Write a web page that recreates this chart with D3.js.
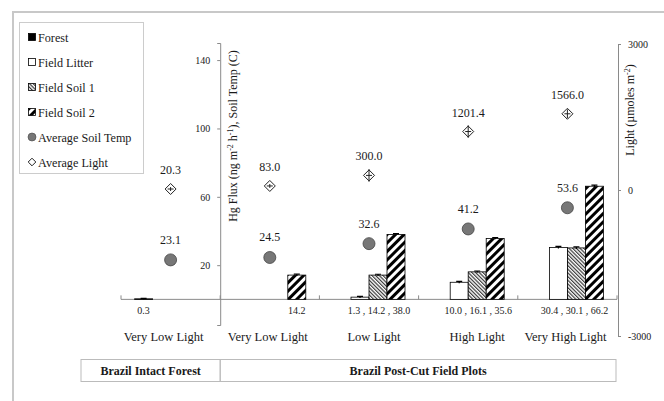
<!DOCTYPE html>
<html>
<head>
<meta charset="utf-8">
<script src="https://cdn.jsdelivr.net/npm/d3@7"></script>
<style>
  body { margin: 0; background: #fff; }
</style>
</head>
<body>
<div id="chart"></div>
<script>
// data
var categories = ["Very Low Light", "Very Low Light ", "Low Light", "High Light", "Very High Light"];
var seriesNames = ["Forest", "Field Litter", "Field Soil 1", "Field Soil 2"];
var forest = [0.3, null, null, null, null];
var fieldLitter = [null, null, 1.3, 10.0, 30.4];
var fieldSoil1 = [null, null, 14.2, 16.1, 30.1];
var fieldSoil2 = [null, 14.2, 38.0, 35.6, 66.2];
var barErr = [0.3, 0.6, 0.5, 0.5, 0.6];
var soilTemp = [23.1, 24.5, 32.6, 41.2, 53.6];
var soilTempErr = [0.8, 0.8, 2.5, 1.0, 2.5];
var light = [20.3, 83.0, 300.0, 1201.4, 1566.0];
var lightErr = [40, 40, 130, 130, 90];
var valueLabels = ["0.3", "14.2", "1.3 , 14.2 , 38.0", "10.0 , 16.1 , 35.6", "30.4 , 30.1 , 66.2"];
var leftTicks = [20, 60, 100, 140];
var rightTicks = [-3000, 0, 3000];
var groups = ["Brazil Intact Forest", "Brazil Post-Cut Field Plots"];

var FONT = "Liberation Serif";
var width = 664, height = 401;
var svg = d3.select("#chart").append("svg")
    .attr("width", width)
    .attr("height", height)
    .style("font-family", FONT);

var defs = svg.append("defs");
// fine hatch for Field Soil 1 ( \\\ )
var p1 = defs.append("pattern").attr("id", "hatch1")
    .attr("patternUnits", "userSpaceOnUse").attr("width", 2.6).attr("height", 2.6)
    .attr("patternTransform", "rotate(-45)");
p1.append("rect").attr("width", 2.6).attr("height", 2.6).attr("fill", "#fff");
p1.append("line").attr("x1", 0.6).attr("y1", 0).attr("x2", 0.6).attr("y2", 2.6)
    .attr("stroke", "#2a2a2a").attr("stroke-width", 1.1);
// wide stripes for Field Soil 2 ( /// )
var p2 = defs.append("pattern").attr("id", "hatch2")
    .attr("patternUnits", "userSpaceOnUse").attr("width", 6).attr("height", 6)
    .attr("patternTransform", "rotate(45)");
p2.append("rect").attr("width", 6).attr("height", 6).attr("fill", "#fff");
p2.append("rect").attr("width", 3).attr("height", 6).attr("fill", "#000");

// frame
svg.append("path").attr("d", "M13,401 V12 H664")
    .attr("fill", "none").attr("stroke", "#c8c8c8").attr("stroke-width", 2);

var x = d3.scaleBand().domain(categories).range([121, 617]).padding(0);
var yL = d3.scaleLinear().domain([-15, 150]).range([325, 43]);
var yR = d3.scaleLinear().domain([-3000, 3000]).range([336, 44]);
var fills = ["#000", "#fff", "url(#hatch1)", "url(#hatch2)"];
var seriesData = [forest, fieldLitter, fieldSoil1, fieldSoil2];

var xIn = d3.scaleBand().domain(seriesNames).range([0, 72]);
function catCenter(i) { return x(categories[i]) + x.bandwidth() / 2; }

function txt(sel, size) {
    return sel.style("font-family", FONT).style("font-size", size + "px").attr("fill", "#1a1a1a");
}

// x axis line + ticks
var axisColor = "#8a8a8a";
svg.append("line").attr("x1", x.range()[0]).attr("x2", x.range()[1])
    .attr("y1", yL(0)).attr("y2", yL(0)).attr("stroke", axisColor);
var bounds = categories.map(function (c) { return x(c); }).concat([x.range()[1]]);
svg.selectAll(".xtick").data(bounds).enter().append("line")
    .attr("x1", function (d) { return d; }).attr("x2", function (d) { return d; })
    .attr("y1", yL(0)).attr("y2", yL(0) - 4).attr("stroke", axisColor);

// left axis, crossing at second category
var leftX = x(categories[1]);
var gL = svg.append("g").attr("transform", "translate(" + leftX + ",0)")
    .call(d3.axisLeft(yL).tickValues(leftTicks).tickSize(3).tickPadding(7));
gL.select(".domain").attr("stroke", axisColor);
gL.selectAll(".tick line").attr("stroke", axisColor);
txt(gL.selectAll(".tick text"), 10);

// right axis
var gR = svg.append("g").attr("transform", "translate(618,0)")
    .call(d3.axisRight(yR).tickValues(rightTicks).tickSize(3).tickPadding(7)
        .tickFormat(function (d) { return String(d); }));
gR.select(".domain").attr("stroke", axisColor);
gR.selectAll(".tick line").attr("stroke", axisColor);
txt(gR.selectAll(".tick text"), 10);

// bars
seriesData.forEach(function (vals, s) {
    var rows = [];
    vals.forEach(function (v, i) { if (v !== null) rows.push({ i: i, v: v }); });
    svg.selectAll(".bar" + s).data(rows).enter().append("rect")
        .attr("x", function (d) { return catCenter(d.i) - 36 + xIn(seriesNames[s]); })
        .attr("width", xIn.bandwidth())
        .attr("y", function (d) { return yL(d.v); })
        .attr("height", function (d) { return yL(0) - yL(d.v); })
        .attr("fill", fills[s])
        .attr("stroke", "#000").attr("stroke-width", 0.8);
    // error caps
    svg.selectAll(".err" + s).data(rows).enter().append("path")
        .attr("d", function (d) {
            var cx = catCenter(d.i) - 36 + xIn(seriesNames[s]) + xIn.bandwidth() / 2;
            var e = barErr[d.i];
            return "M" + cx + "," + yL(d.v + e) + "V" + yL(d.v - e) +
                "M" + (cx - 3) + "," + yL(d.v + e) + "H" + (cx + 3);
        })
        .attr("stroke", "#000").attr("stroke-width", 1.2).attr("fill", "none");
});

// soil temp points
svg.selectAll(".tErr").data(soilTemp).enter().append("path")
    .attr("d", function (d, i) {
        var cx = catCenter(i);
        return "M" + cx + "," + yL(d + soilTempErr[i]) + "V" + yL(d - soilTempErr[i]);
    })
    .attr("stroke", "#333");
svg.selectAll(".temp").data(soilTemp).enter().append("circle")
    .attr("cx", function (d, i) { return catCenter(i); })
    .attr("cy", function (d) { return yL(d); })
    .attr("r", 6)
    .attr("fill", "#777").attr("stroke", "#444").attr("stroke-width", 0.8);
txt(svg.selectAll(".tLab").data(soilTemp).enter().append("text"), 12)
    .attr("x", function (d, i) { return catCenter(i); })
    .attr("y", function (d) { return yL(d) - 16; })
    .attr("text-anchor", "middle")
    .text(function (d) { return d.toFixed(1); });

// light points (square diamond)
function diamondPath(r) { return "M0," + (-r) + "L" + r + ",0L0," + r + "L" + (-r) + ",0Z"; }
svg.selectAll(".lightD").data(light).enter().append("path")
    .attr("d", diamondPath(5.5))
    .attr("transform", function (d, i) { return "translate(" + catCenter(i) + "," + yR(d) + ")"; })
    .attr("fill", "#fff").attr("stroke", "#222").attr("stroke-width", 1);
svg.selectAll(".lErr").data(light).enter().append("path")
    .attr("d", function (d, i) {
        var cx = catCenter(i);
        return "M" + cx + "," + yR(d + lightErr[i]) + "V" + yR(d - lightErr[i]) +
            "M" + (cx - 3) + "," + yR(d) + "H" + (cx + 3);
    })
    .attr("stroke", "#222").attr("stroke-width", 1);
txt(svg.selectAll(".lLab").data(light).enter().append("text"), 12)
    .attr("x", function (d, i) { return catCenter(i); })
    .attr("y", function (d) { return yR(d) - 15; })
    .attr("text-anchor", "middle")
    .text(function (d) { return d.toFixed(1); });

// value row under axis
var labelShift = [-27, 27, 10, 10, 7];
txt(svg.selectAll(".vLab").data(valueLabels).enter().append("text"), 10)
    .attr("x", function (d, i) { return catCenter(i) + labelShift[i]; })
    .attr("y", yL(0) + 15)
    .attr("text-anchor", "middle")
    .text(function (d) { return d; });

// category labels
txt(svg.selectAll(".cLab").data(categories).enter().append("text"), 12.5)
    .attr("x", function (d, i) { return catCenter(i) + [-7, -2, 5, 9, -2][i]; })
    .attr("y", 341)
    .attr("text-anchor", "middle")
    .text(function (d) { return d.trim(); });

// group table
var cells = [[81, leftX], [leftX, 616]];
cells.forEach(function (c, i) {
    svg.append("rect").attr("x", c[0]).attr("y", 359.5).attr("width", c[1] - c[0]).attr("height", 22)
        .attr("fill", "none").attr("stroke", "#bbb");
    txt(svg.append("text"), 12).attr("x", (c[0] + c[1]) / 2).attr("y", 375)
        .attr("text-anchor", "middle").style("font-weight", "bold")
        .text(groups[i]);
});

// axis titles
var tl = txt(svg.append("text"), 12).attr("transform", "translate(237,136) rotate(-90)")
    .attr("text-anchor", "middle");
tl.append("tspan").text("Hg Flux (ng m");
tl.append("tspan").attr("dy", -4).style("font-size", "8px").text("-2");
tl.append("tspan").attr("dy", 4).text(" h");
tl.append("tspan").attr("dy", -4).style("font-size", "8px").text("-1");
tl.append("tspan").attr("dy", 4).text("), Soil Temp (C)");

var tr = txt(svg.append("text"), 12).attr("transform", "translate(634,110) rotate(-90)")
    .attr("text-anchor", "middle");
tr.append("tspan").text("Light (\u00b5moles m");
tr.append("tspan").attr("dy", -4).style("font-size", "8px").text("-2");
tr.append("tspan").attr("dy", 4).text(")");

// legend
svg.append("rect").attr("x", 19.5).attr("y", 22.5).attr("width", 124).attr("height", 151)
    .attr("fill", "#fff").attr("stroke", "#ccc");
var legendNames = seriesNames.concat(["Average Soil Temp", "Average Light"]);
var leg = svg.selectAll(".leg").data(legendNames).enter().append("g")
    .attr("transform", function (d, i) { return "translate(32," + (37 + i * 25) + ")"; });
leg.each(function (d, i) {
    var g = d3.select(this);
    if (i < 4) {
        g.append("rect").attr("x", -3.5).attr("y", -3.5).attr("width", 7).attr("height", 7)
            .attr("fill", fills[i]).attr("stroke", "#000").attr("stroke-width", 0.8);
    } else if (i === 4) {
        g.append("circle").attr("r", 4).attr("fill", "#777").attr("stroke", "#444").attr("stroke-width", 0.6);
    } else {
        g.append("path").attr("d", diamondPath(3.8))
            .attr("fill", "#fff").attr("stroke", "#222");
    }
    txt(g.append("text"), 12.2).attr("x", 6).attr("y", 4.5).text(d);
});
</script>
</body>
</html>
